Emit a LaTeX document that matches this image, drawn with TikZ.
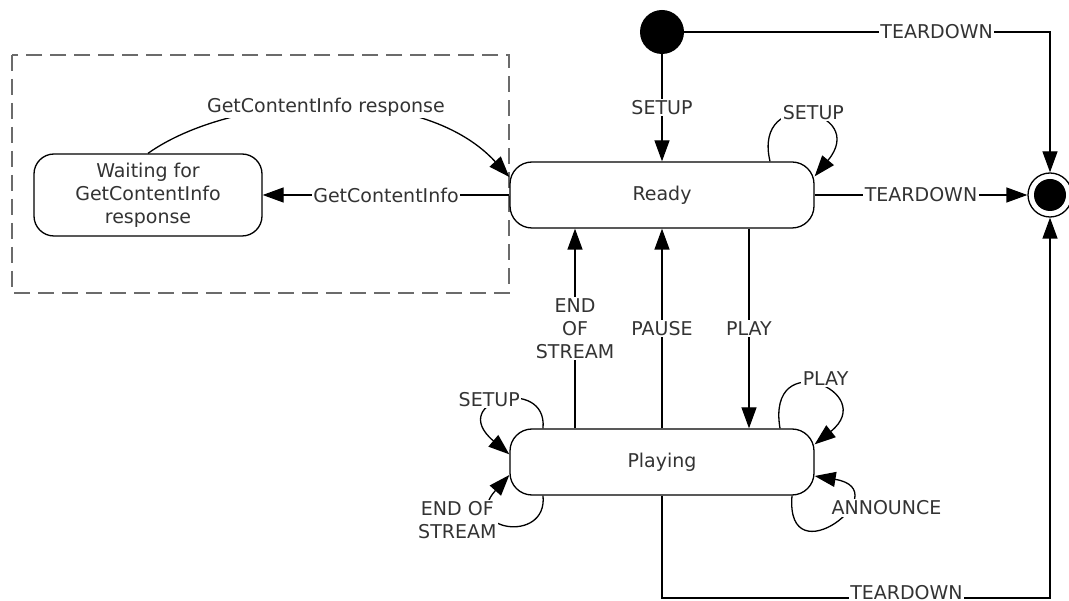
\documentclass[tikz,border=0pt]{standalone}
\usepackage{fontspec}
\setmainfont{DejaVu Sans}
\usetikzlibrary{arrows.meta}
\begin{document}
\begin{tikzpicture}[x=1pt,y=-1pt,
  every node/.style={font=\fontsize{19}{23}\selectfont, text=black!80},
  state/.style={draw=black, fill=white, rounded corners=22pt, line width=1.3pt,
    minimum width=304pt, minimum height=66pt, inner sep=0pt},
  arr/.style={line width=1.3pt, -{Triangle[length=21pt,width=15pt]}},
  lbl/.style={fill=white, inner sep=1.5pt, align=center},
  frame/.style={draw=black!58, line width=2.8pt, dash pattern=on 16pt off 8pt},
]
\useasboundingbox (0,0) rectangle (1069,601);
\fill[white] (0,0) rectangle (1069,601);

% dashed group frame
\draw[frame] (12,55) rectangle (509,293);

% states
\node[state] (ready) at (662,195) {Ready};
\node[state] (play) at (662,462) {Playing};
\node[state, rounded corners=20pt, minimum width=228pt, minimum height=82pt, align=center] (wait) at (148,195) {Waiting for\\GetContentInfo\\response};
\node[circle, fill=black, minimum size=44pt, inner sep=0pt] (init) at (662,32) {};
\node[circle, draw=black, line width=1.3pt, minimum size=44pt, inner sep=0pt] (fin) at (1050,195) {};
\fill[black] (fin.center) circle (16);

\coordinate (t1) at (1050,32);
\coordinate (b1) at (662,598);
\coordinate (b2) at (1050,598);

% transitions
\draw[arr] (init) -- node[lbl]{SETUP} (ready);
\draw[arr] (init) -- node[lbl,pos=0.69]{TEARDOWN} (t1) -- (fin);
\draw[arr] (ready) -- node[lbl]{TEARDOWN} (fin);
\draw[arr] (ready.west) -- node[lbl]{GetContentInfo} (wait.east);
\draw[arr] (wait.north) .. controls (230,95) and (420,80) .. ([yshift=18pt]ready.west)
  node[lbl,pos=0.5]{GetContentInfo response};
\draw[arr] ([xshift=-87pt]play.north) -- node[lbl]{END\\OF\\STREAM} ([xshift=-87pt]ready.south);
\draw[arr] (play) -- node[lbl]{PAUSE} (ready);
\draw[arr] ([xshift=87pt]ready.south) -- node[lbl]{PLAY} ([xshift=87pt]play.north);
\draw[arr] (play.south) -- (b1) -- node[lbl,pos=0.63,yshift=5pt]{TEARDOWN} (b2) -- (fin.south);

% self loops
\draw[arr] ([xshift=108pt]ready.north) .. controls (752,85) and (870,110) .. ([yshift=-15pt]ready.north east)
  node[lbl,pos=0.5,xshift=7pt,yshift=3pt]{SETUP};
\draw[arr] ([xshift=118pt]play.north) .. controls (766,345) and (880,392) .. ([yshift=-16pt]play.north east)
  node[lbl,pos=0.5,xshift=9pt,yshift=7pt]{PLAY};
\draw[arr] ([xshift=130pt]play.south) .. controls (785,580) and (900,490) .. ([yshift=-14pt]play.east)
  node[lbl,pos=0.65,anchor=west,xshift=-15pt]{ANNOUNCE};
\draw[arr] ([xshift=-119pt]play.north) .. controls (548,375) and (445,400) .. ([yshift=-26pt]play.north west)
  node[lbl,pos=0.45,xshift=-20pt]{SETUP};
\draw[arr] ([xshift=-119pt]play.south) .. controls (548,545) and (460,530) .. ([yshift=-13pt]play.west)
  node[lbl,pos=0.6,xshift=-44pt]{END OF\\STREAM};
\end{tikzpicture}
\end{document}
